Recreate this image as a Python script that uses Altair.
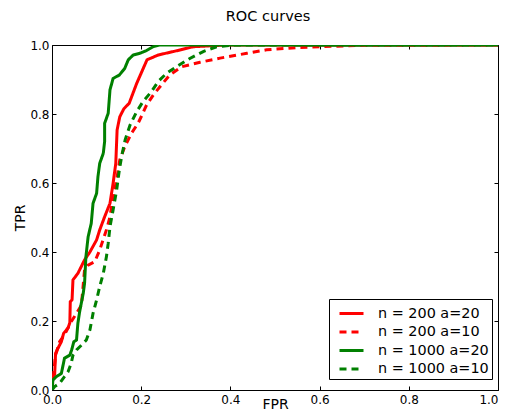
import altair as alt
import pandas as pd

series_names = ["n = 200 a=20", "n = 200 a=10", "n = 1000 a=20", "n = 1000 a=10"]
series_colors = ["#ff0000", "#ff0000", "#008000", "#008000"]
series_dashes = [[1, 0], [7, 5], [1, 0], [7, 5]]

fpr_200_20 = [0.0, 0.002, 0.006, 0.008, 0.013, 0.021, 0.026, 0.036, 0.04, 0.041, 0.045, 0.047, 0.058,
              0.073, 0.085, 0.1, 0.107, 0.118, 0.13, 0.137, 0.143, 0.146, 0.152, 0.161, 0.173, 0.19,
              0.213, 0.238, 0.272, 0.317, 0.39, 1.0]
tpr_200_20 = [0.0, 0.04, 0.045, 0.106, 0.12, 0.14, 0.164, 0.18, 0.195, 0.256, 0.262, 0.319, 0.338,
              0.377, 0.40, 0.435, 0.464, 0.502, 0.541, 0.599, 0.657, 0.754, 0.792, 0.815, 0.831, 0.889,
              0.957, 0.971, 0.981, 0.995, 1.0, 1.0]

fpr_200_10 = [0.0, 0.003, 0.008, 0.017, 0.028, 0.036, 0.043, 0.055, 0.066, 0.073, 0.081, 0.096,
              0.107, 0.122, 0.13, 0.137, 0.145, 0.152, 0.163, 0.178, 0.193, 0.2, 0.212, 0.227, 0.242,
              0.264, 0.291, 0.332, 0.377, 0.437, 0.481, 0.556, 0.6, 0.7, 1.0]
tpr_200_10 = [0.0, 0.039, 0.101, 0.14, 0.16, 0.18, 0.198, 0.222, 0.246, 0.348, 0.362, 0.372,
              0.406, 0.464, 0.502, 0.56, 0.609, 0.667, 0.705, 0.744, 0.773, 0.792, 0.826, 0.855, 0.879,
              0.913, 0.937, 0.95, 0.962, 0.976, 0.986, 0.993, 0.995, 0.999, 1.0]

fpr_1000_20 = [0.0, 0.002, 0.01, 0.021, 0.028, 0.04, 0.044, 0.049, 0.055, 0.058, 0.062, 0.07, 0.073,
               0.076, 0.081, 0.088, 0.092, 0.1, 0.103, 0.107, 0.115, 0.118, 0.118, 0.126, 0.13, 0.137,
               0.151, 0.163, 0.171, 0.182, 0.197, 0.212, 0.227, 0.242, 1.0]
tpr_1000_20 = [0.0, 0.029, 0.039, 0.048, 0.092, 0.101, 0.116, 0.14, 0.145, 0.193, 0.227, 0.28, 0.309,
               0.386, 0.444, 0.483, 0.541, 0.57, 0.618, 0.657, 0.686, 0.72, 0.773, 0.802, 0.87, 0.903,
               0.913, 0.932, 0.957, 0.971, 0.976, 0.984, 0.995, 1.0, 1.0]

fpr_1000_10 = [0.0, 0.006, 0.017, 0.028, 0.036, 0.043, 0.047, 0.055, 0.066, 0.077, 0.085, 0.092, 0.1,
               0.107, 0.115, 0.122, 0.126, 0.13, 0.137, 0.145, 0.151, 0.156, 0.164, 0.175, 0.19, 0.204,
               0.223, 0.238, 0.257, 0.279, 0.309, 0.339, 0.369, 0.407, 1.0]
tpr_1000_10 = [0.0, 0.01, 0.019, 0.039, 0.053, 0.077, 0.101, 0.116, 0.13, 0.145, 0.174, 0.222, 0.261,
               0.3, 0.338, 0.386, 0.425, 0.473, 0.522, 0.58, 0.638, 0.676, 0.725, 0.768, 0.807, 0.836,
               0.865, 0.894, 0.918, 0.937, 0.961, 0.981, 0.995, 1.0, 1.0]

tick_values = [0.0, 0.2, 0.4, 0.6, 0.8, 1.0]

rows = []
for name, fx, ty in zip(series_names,
                        [fpr_200_20, fpr_200_10, fpr_1000_20, fpr_1000_10],
                        [tpr_200_20, tpr_200_10, tpr_1000_20, tpr_1000_10]):
    for i, (a, b) in enumerate(zip(fx, ty)):
        rows.append({"fpr": a, "tpr": b, "series": name, "idx": i})
df = pd.DataFrame(rows)
ticks_df = pd.DataFrame({"fpr": tick_values, "tpr": tick_values})

FONT = "DejaVu Sans"
W, H = 446, 345
sx = alt.Scale(domain=[0, 1], nice=False, zero=False)
sy = alt.Scale(domain=[0, 1], nice=False, zero=False)

curves = alt.Chart(df).mark_line(strokeWidth=3, clip=True, strokeCap="butt").encode(
    x=alt.X("fpr:Q", scale=sx, axis=alt.Axis(
        orient="bottom", values=tick_values, format=".1f", ticks=False, domain=False, grid=False,
        title="FPR", labelPadding=4, titlePadding=-8, labelFlush=False, labelOverlap=False,
        labelAlign=alt.ExprRef("datum.value == 1 ? 'right' : 'center'"))),
    y=alt.Y("tpr:Q", scale=sy, axis=alt.Axis(
        orient="left", values=tick_values, format=".1f", ticks=False, domain=False, grid=False,
        title="TPR", labelPadding=3, titlePadding=2, labelFlush=False, labelOverlap=False)),
    color=alt.Color("series:N", scale=alt.Scale(domain=series_names, range=series_colors),
                    legend=alt.Legend(title=None)),
    strokeDash=alt.StrokeDash("series:N", scale=alt.Scale(domain=series_names, range=series_dashes),
                              legend=alt.Legend(title=None)),
    order="idx:Q",
)

def tick_axis(orient, offset):
    return alt.Axis(orient=orient, offset=offset, values=tick_values, labels=False, domain=False,
                    grid=False, title=None, ticks=True, tickSize=4, tickColor="black", tickWidth=1)

ticks_a = alt.Chart(ticks_df).mark_point(opacity=0).encode(
    x=alt.X("fpr:Q", scale=sx, axis=tick_axis("top", -H)),
    y=alt.Y("tpr:Q", scale=sy, axis=tick_axis("right", -W)),
)
ticks_b = alt.Chart(ticks_df).mark_point(opacity=0).encode(
    x=alt.X("fpr:Q", scale=sx, axis=tick_axis("bottom", -H)),
    y=alt.Y("tpr:Q", scale=sy, axis=tick_axis("left", -W)),
)

chart = alt.layer(curves, ticks_a, ticks_b).resolve_axis(
    x="independent", y="independent"
).properties(
    width=W, height=H,
    title=alt.TitleParams("ROC curves", font=FONT, fontSize=14.5, fontWeight="normal",
                          color="black", offset=4, baseline="alphabetic", anchor="middle", dx=-7),
    autosize=alt.AutoSizeParams(type="none"),
    padding={"left": 44, "top": 37, "right": 2, "bottom": 21},
).configure_view(
    stroke="black", strokeWidth=1
).configure_axis(
    labelFont=FONT, labelFontSize=12, labelColor="black",
    titleFont=FONT, titleFontSize=14, titleFontWeight="normal", titleColor="black",
).configure_legend(
    orient="none", legendX=277, legendY=254,
    strokeColor="black", fillColor="white", padding=3,
    labelFont=FONT, labelFontSize=14.4, labelColor="black", labelLimit=300,
    symbolType="M-1.2,0H1.2", symbolSize=400, symbolStrokeWidth=3,
    symbolOffset=8, labelOffset=15, rowPadding=0.5, symbolOpacity=1,
)

chart.save("out.html", embed_options={"renderer": "svg", "actions": False})
